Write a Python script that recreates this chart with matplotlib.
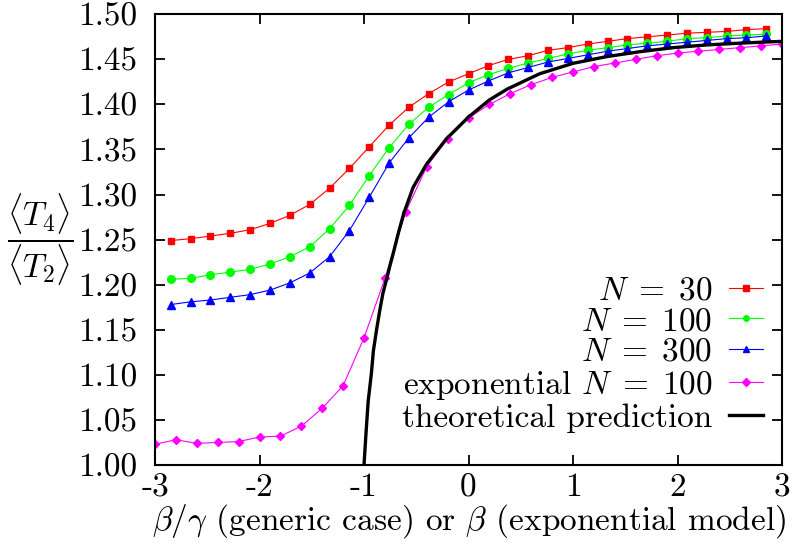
import matplotlib
matplotlib.use("Agg")
import matplotlib.pyplot as plt

# beta/gamma values for the generic model runs
x_generic = [-2.85, -2.66, -2.47, -2.28, -2.09, -1.90, -1.71, -1.52, -1.33, -1.14,
             -0.95, -0.76, -0.57, -0.38, -0.19, 0.00, 0.19, 0.38, 0.57, 0.76,
             0.95, 1.14, 1.33, 1.52, 1.71, 1.90, 2.09, 2.28, 2.47, 2.66, 2.85]
# beta values for the exponential model
x_exp = [-3.0, -2.8, -2.6, -2.4, -2.2, -2.0, -1.8, -1.6, -1.4, -1.2,
         -1.0, -0.8, -0.6, -0.4, -0.2, 0.0, 0.2, 0.4, 0.6, 0.8,
         1.0, 1.2, 1.4, 1.6, 1.8, 2.0, 2.2, 2.4, 2.6, 2.8, 3.0]

ratio_n30 = [1.249, 1.251, 1.254, 1.257, 1.261, 1.268, 1.277, 1.289, 1.307, 1.329,
             1.353, 1.377, 1.397, 1.412, 1.425, 1.434, 1.443, 1.450, 1.454, 1.460,
             1.463, 1.467, 1.470, 1.473, 1.475, 1.477, 1.479, 1.480, 1.481, 1.483, 1.484]
ratio_n100 = [1.206, 1.207, 1.211, 1.214, 1.217, 1.223, 1.231, 1.242, 1.262, 1.288,
              1.321, 1.352, 1.378, 1.397, 1.411, 1.424, 1.433, 1.440, 1.446, 1.451,
              1.456, 1.460, 1.463, 1.466, 1.468, 1.470, 1.473, 1.474, 1.476, 1.477, 1.478]
ratio_n300 = [1.178, 1.181, 1.183, 1.186, 1.189, 1.194, 1.202, 1.213, 1.231, 1.260,
              1.297, 1.335, 1.363, 1.386, 1.403, 1.416, 1.426, 1.435, 1.441, 1.447,
              1.451, 1.455, 1.459, 1.462, 1.465, 1.467, 1.469, 1.471, 1.473, 1.474, 1.476]
ratio_exp = [1.023, 1.028, 1.024, 1.025, 1.026, 1.031, 1.032, 1.043, 1.063, 1.088,
             1.141, 1.207, 1.281, 1.331, 1.362, 1.385, 1.400, 1.412, 1.422, 1.430,
             1.436, 1.442, 1.446, 1.450, 1.454, 1.457, 1.459, 1.461, 1.463, 1.465, 1.467]

# theoretical curve
x_theory = [-1.0, -0.98, -0.96, -0.93, -0.91, -0.88, -0.85, -0.82, -0.78, -0.75,
            -0.72, -0.67, -0.62, -0.53, -0.40, -0.21, 0.0, 0.2, 0.37, 0.68,
            1.0, 1.32, 1.64, 1.96, 2.28, 2.6, 3.0]
y_theory = [1.000, 1.037, 1.071, 1.101, 1.127, 1.150, 1.171, 1.190, 1.208, 1.222,
            1.235, 1.258, 1.279, 1.308, 1.334, 1.362, 1.386, 1.405, 1.417, 1.434,
            1.4456, 1.453, 1.4585, 1.463, 1.466, 1.468, 1.470]

x_ticks = [-3, -2, -1, 0, 1, 2, 3]
x_ticklabels = ["-3", "-2", "-1", "0", "1", "2", "3"]
y_ticks = [1.00, 1.05, 1.10, 1.15, 1.20, 1.25, 1.30, 1.35, 1.40, 1.45, 1.50]

plt.rcParams["font.family"] = "serif"
plt.rcParams["font.serif"] = ["cmr10"]
plt.rcParams["mathtext.fontset"] = "cm"
plt.rcParams["axes.unicode_minus"] = False
plt.rcParams["axes.formatter.use_mathtext"] = True

fs = 24
fig = plt.figure(figsize=(7.97, 5.56), dpi=100)
ax = fig.add_axes([0.1945, 0.1637, 0.7867, 0.8106])

ax.plot(x_generic, ratio_n30, color="#ff0000", lw=0.8, marker="s", ms=5,
        label=r"$N\;=\;30$")
ax.plot(x_generic, ratio_n100, color="#00ff00", lw=0.8, marker="o", ms=5.5,
        label=r"$N\;=\;100$")
ax.plot(x_generic, ratio_n300, color="#0000ff", lw=0.8, marker="^", ms=5.5,
        label=r"$N\;=\;300$")
ax.plot(x_exp, ratio_exp, color="#ff00ff", lw=0.8, marker="D", ms=4,
        label=r"exponential $N\;=\;100$")
ax.plot(x_theory, y_theory, color="black", lw=2.4, label="theoretical prediction")

ax.set_xlim(-3, 3)
ax.set_ylim(1.0, 1.5)
ax.set_xticks(x_ticks)
ax.set_xticklabels(x_ticklabels)
ax.set_yticks(y_ticks)
ax.set_yticklabels([f"{v:.2f}" for v in y_ticks])
ax.tick_params(direction="in", length=7, width=1.3, top=True, right=True,
               labelsize=fs)
ax.tick_params(axis="x", pad=6)
ax.tick_params(axis="y", pad=13)
for sp in ax.spines.values():
    sp.set_linewidth(1.5)

ax.set_xlabel(r"$\beta/\gamma$ (generic case) or $\beta$ (exponential model)",
              fontsize=fs, labelpad=0)
ax.text(-0.183, 0.50, r"$\dfrac{\langle T_4\rangle}{\langle T_2\rangle}$",
        transform=ax.transAxes, fontsize=fs, ha="center", va="center")

leg = ax.legend(loc="center right", bbox_to_anchor=(0.969, 0.245),
                markerfirst=False, frameon=False, fontsize=fs,
                handlelength=1.0, handletextpad=0.5, labelspacing=0.04,
                borderpad=0, borderaxespad=0)
for h in leg.legend_handles:
    h.set_markersize(4)

fig.savefig("out.png", dpi=100)
